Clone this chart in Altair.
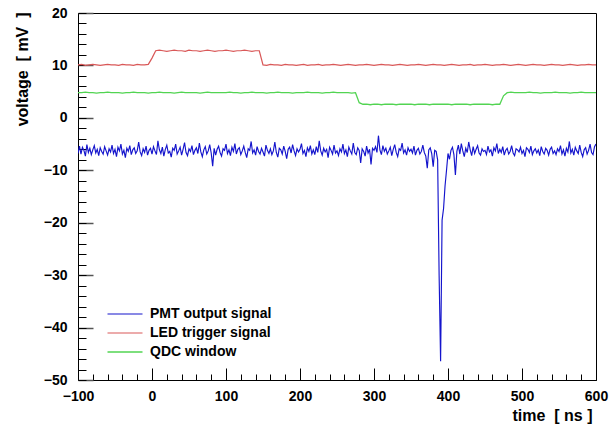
import altair as alt
import pandas as pd

series_names = ["PMT output signal", "LED trigger signal", "QDC window"]
series_colors = ["#1414cc", "#d95858", "#52d452"]
series_widths = [1.15, 1.3, 1.3]

# PMT trace: samples every 2 ns starting at -100 ns
pmt_t0, pmt_dt = -100, 2
pmt_mV = [
    -6.8, -5.4, -6.9, -5.6, -6.2, -7.3, -5.1, -6.6, -5.8, -7.0, -6.1, -5.3, -6.7, -6.0, -7.2, -5.7, -6.4, -6.9, -5.5, -6.3, -7.1, -5.9, -6.5, -5.2, -6.8,
    -6.0, -7.4, -5.6, -6.3, -5.0, -6.9, -6.2, -7.6, -5.8, -6.4, -5.3, -7.0, -6.1, -5.7, -6.8, -6.3, -4.6, -6.5, -7.2, -5.9, -6.6, -5.4, -7.1, -6.2, -5.8,
    -6.9, -5.5, -6.3, -7.0, -4.4, -6.1, -6.8, -5.6, -7.3, -6.0, -5.2, -6.7, -6.4, -7.5, -5.8, -6.2, -5.0, -6.9, -6.3, -5.6, -7.1, -6.0, -4.7, -6.6, -7.2,
    -5.9, -6.4, -5.3, -7.0, -6.2, -5.7, -6.8, -4.8, -6.5, -7.4, -6.1, -5.5, -6.9, -6.3, -5.1, -6.7, -9.2, -5.8, -7.1, -6.0, -5.4, -6.6, -7.3, -5.9, -6.2,
    -5.0, -6.8, -6.1, -7.2, -5.6, -6.4, -4.9, -6.9, -6.0, -5.7, -7.0, -6.3, -5.4, -6.6, -7.6, -5.9, -6.2, -4.5, -6.7, -6.1, -7.1, -5.5, -6.4, -6.9, -5.8,
    -6.5, -7.3, -5.2, -6.2, -6.8, -5.9, -7.0, -6.3, -4.6, -6.6, -7.5, -5.8, -6.1, -6.9, -5.4, -6.4, -7.8, -6.0, -5.6, -6.7, -5.1, -6.3, -7.2, -5.9, -6.5,
    -6.0, -4.9, -6.8, -6.2, -7.4, -5.7, -6.4, -5.3, -6.9, -6.1, -7.0, -5.5, -6.6, -4.4, -6.3, -7.1, -5.8, -6.5, -6.0, -7.6, -5.6, -6.2, -6.9, -5.2, -6.7,
    -6.3, -7.2, -5.9, -6.5, -5.0, -6.8, -6.1, -7.4, -5.6, -6.3, -6.9, -4.8, -6.6, -7.0, -5.7, -6.2, -8.6, -5.9, -6.4, -7.3, -5.4, -6.7, -6.0, -8.9, -5.8,
    -6.2, -5.5, -6.6, -3.4, -6.1, -7.0, -5.3, -6.4, -5.8, -6.9, -6.3, -5.6, -7.2, -6.0, -5.1, -6.6, -7.4, -5.9, -6.2, -4.8, -6.7, -6.1, -7.1, -5.7, -6.4,
    -6.0, -6.7, -5.4, -7.1, -6.2, -5.8, -6.9, -6.4, -5.2, -6.6, -7.3, -9.6, -6.1, -5.7, -6.8, -9.3, -6.2, -6.4, -8.0, -30.0, -46.4, -19.5, -17.3, -13.0, -10.0,
    -6.8, -7.9, -6.2, -5.6, -7.0, -10.9, -6.4, -5.2, -6.9, -4.9, -6.3, -7.4, -5.8, -6.6, -4.6, -6.1, -7.2, -5.5, -6.8, -6.0, -5.3, -6.7, -7.1, -5.9, -6.4,
    -6.2, -7.0, -5.4, -6.5, -6.1, -7.3, -5.7, -6.3, -4.9, -6.8, -6.0, -6.6, -5.5, -7.1, -6.2, -5.8, -6.9, -6.4, -5.3, -6.7, -7.2, -5.9, -6.1, -6.5, -5.6,
    -6.8, -6.2, -7.4, -5.7, -6.0, -6.6, -5.4, -7.0, -6.3, -5.9, -6.7, -6.1, -7.2, -5.5, -6.4, -6.9, -5.8, -6.2, -7.1, -6.0, -5.6, -6.8, -6.3, -7.0, -5.9,
    -6.4, -5.3, -6.9, -6.1, -7.3, -5.8, -6.5, -4.5, -6.7, -6.0, -7.1, -5.6, -6.3, -6.8, -5.2, -6.6, -7.4, -6.1, -5.7, -6.9, -6.2, -5.0, -6.6, -7.0, -5.5,
    -5.0,
]

# LED trigger and QDC window: samples every 5 ns starting at -100 ns
slow_t0, slow_dt = -100, 5
led_mV = [
    10.1, 10.2, 10.0, 10.1, 10.2, 10.1, 10.0, 10.1, 10.2, 10.1, 10.1, 10.0, 10.2, 10.1, 10.1, 10.0, 10.2, 10.1, 10.1, 10.2,
    11.4, 12.8, 12.9, 12.8, 12.7, 12.8, 12.9, 12.8, 12.8, 12.7, 12.9, 12.8, 12.8, 12.7, 12.8, 12.9, 12.8, 12.7, 12.8, 12.8,
    12.9, 12.8, 12.7, 12.8, 12.8, 12.9, 12.8, 12.7, 12.8, 12.8, 10.1, 10.0, 10.2, 10.1, 10.1, 10.0, 10.2, 10.1, 10.1, 10.0,
    10.1, 10.2, 10.0, 10.1, 10.1, 10.2, 10.0, 10.1, 10.1, 10.2, 10.1, 10.0, 10.1, 10.2, 10.1, 10.0, 10.1, 10.1, 10.2, 10.1,
    10.0, 10.1, 10.2, 10.1, 10.1, 10.0, 10.1, 10.2, 10.1, 10.0, 10.1, 10.1, 10.2, 10.1, 10.0, 10.1, 10.2, 10.1, 10.1, 10.0,
    10.1, 10.2, 10.1, 10.0, 10.1, 10.1, 10.2, 10.0, 10.1, 10.1, 10.2, 10.1, 10.0, 10.1, 10.1, 10.2, 10.1, 10.0, 10.1, 10.2,
    10.1, 10.0, 10.1, 10.2, 10.1, 10.1, 10.0, 10.1, 10.2, 10.1, 10.1, 10.0, 10.1, 10.2, 10.1, 10.0, 10.1, 10.1, 10.2, 10.1,
    10.1,
]
qdc_mV = [
    4.8, 4.8, 4.9, 4.8, 4.8, 4.7, 4.8, 4.8, 4.9, 4.8, 4.8, 4.8, 4.7, 4.8, 4.8, 4.9, 4.8, 4.8, 4.8, 4.7,
    4.8, 4.8, 4.9, 4.8, 4.8, 4.8, 4.7, 4.8, 4.9, 4.8, 4.8, 4.8, 4.8, 4.7, 4.8, 4.9, 4.8, 4.8, 4.8, 4.8,
    4.8, 4.9, 4.8, 4.8, 4.7, 4.8, 4.8, 4.9, 4.8, 4.8, 4.8, 4.7, 4.8, 4.8, 4.9, 4.8, 4.8, 4.8, 4.7, 4.8,
    4.8, 4.8, 4.9, 4.8, 4.8, 4.8, 4.7, 4.8, 4.8, 4.9, 4.8, 4.8, 4.8, 4.8, 4.7, 4.8, 2.9, 2.6, 2.6, 2.5,
    2.6, 2.6, 2.5, 2.6, 2.6, 2.6, 2.5, 2.6, 2.6, 2.6, 2.6, 2.5, 2.6, 2.6, 2.6, 2.5, 2.6, 2.6, 2.6, 2.6,
    2.6, 2.5, 2.6, 2.6, 2.6, 2.6, 2.5, 2.6, 2.6, 2.6, 2.6, 2.6, 2.5, 2.6, 2.6, 4.2, 4.8, 4.9, 4.8, 4.8,
    4.8, 4.8, 4.9, 4.8, 4.8, 4.7, 4.8, 4.8, 4.8, 4.9, 4.8, 4.8, 4.8, 4.7, 4.8, 4.8, 4.9, 4.8, 4.8, 4.8,
    4.8,
]

x_major = [-100, 0, 100, 200, 300, 400, 500, 600]
x_minor = list(range(-100, 601, 20))
y_major = [-50, -40, -30, -20, -10, 0, 10, 20]
y_minor = list(range(-50, 21, 2))

NB = "\u00a0"
x_title = "time" + NB + NB + "[" + NB + "ns" + NB + "]"
y_title = "voltage" + NB + NB + "[" + NB + "mV" + NB + NB + "]"

rows = []
for i, v in enumerate(pmt_mV):
    rows.append({"t": pmt_t0 + i * pmt_dt, "v": v, "s": series_names[0]})
for i, v in enumerate(led_mV):
    rows.append({"t": slow_t0 + i * slow_dt, "v": v, "s": series_names[1]})
for i, v in enumerate(qdc_mV):
    rows.append({"t": slow_t0 + i * slow_dt, "v": v, "s": series_names[2]})
df = pd.DataFrame(rows)

W, H = 518, 367
FONT = "Liberation Sans"

xs = alt.Scale(domain=[-100, 600], nice=False, zero=False)
ys = alt.Scale(domain=[-50, 20], nice=False, zero=False)

base = alt.Chart(df)

lines = base.mark_line(clip=True).encode(
    x=alt.X("t:Q", scale=xs, axis=alt.Axis(
        orient="bottom", title=x_title, values=x_major, ticks=False, domain=False, grid=False,
        labelFont=FONT, labelFontSize=14, labelFontWeight="bold", labelColor="black",
        labelPadding=9, labelFlush=False, labelOverlap=False, format="d",
        titleFont=FONT, titleFontSize=16, titleFontWeight="bold", titleColor="black",
        titleX=514, titleY=40, titleAlign="right", titleBaseline="alphabetic")),
    y=alt.Y("v:Q", scale=ys, axis=alt.Axis(
        orient="left", title=y_title, values=y_major, ticks=False, domain=False, grid=False,
        labelFont=FONT, labelFontSize=14, labelFontWeight="bold", labelColor="black",
        labelPadding=11, labelFlush=False, labelOverlap=False, format="d",
        titleFont=FONT, titleFontSize=16, titleFontWeight="bold", titleColor="black",
        titleX=-56, titleY=-1, titleAngle=-90, titleAlign="right", titleBaseline="middle")),
    color=alt.Color("s:N", scale=alt.Scale(domain=series_names, range=series_colors), legend=alt.Legend(
        title=None, orient="none", legendX=39, legendY=293, symbolType="M-2.5,0H2.5", symbolSize=196,
        symbolStrokeWidth=1.3, labelFont=FONT, labelFontSize=14, labelFontWeight="bold",
        labelColor="black", labelOffset=17, rowPadding=4, padding=0)),
    strokeWidth=alt.StrokeWidth("s:N", scale=alt.Scale(domain=series_names, range=series_widths), legend=None),
)


def tick_layer(xaxis, yaxis):
    return base.mark_point(opacity=0).encode(
        x=alt.X("t:Q", scale=xs, axis=xaxis),
        y=alt.Y("v:Q", scale=ys, axis=yaxis),
    )


def tick_axis(orient, values, size, color="black", width=1):
    return alt.Axis(orient=orient, values=values, tickSize={"expr": str(-size)}, labels=False,
                    domain=False, grid=False, title=None, tickColor=color, tickWidth=width)


xmaj = tick_layer(tick_axis("bottom", x_major, 12), None)
xmin = tick_layer(tick_axis("bottom", x_minor, 6), None)
ymaj = tick_layer(None, tick_axis("left", y_major, 15, "#555555", 1.5))
ymin = tick_layer(None, tick_axis("left", y_minor, 8))

chart = alt.layer(lines, xmaj, xmin, ymaj, ymin).resolve_axis(
    x="independent", y="independent"
).properties(
    width=W, height=H,
    autosize=alt.AutoSizeParams(type="none"),
    padding={"left": 78, "top": 13, "right": 16, "bottom": 48},
).configure_view(stroke="black", strokeWidth=1)

chart.save("out.html", embed_options={"renderer": "svg", "actions": False})
